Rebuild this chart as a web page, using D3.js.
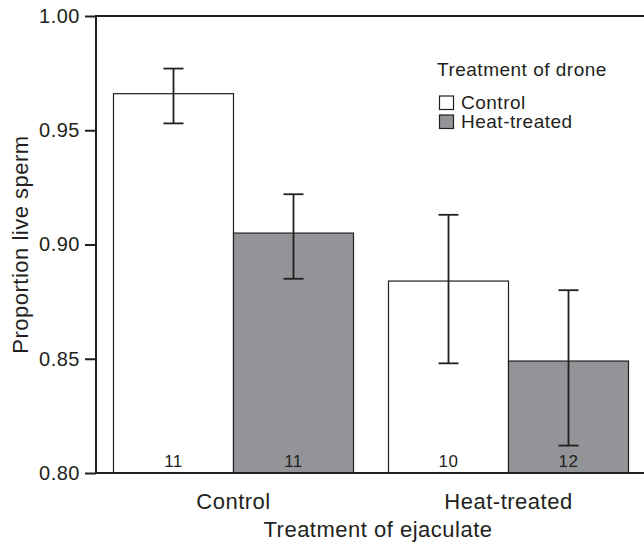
<!DOCTYPE html>
<html>
<head>
<meta charset="utf-8">
<script src="https://cdn.jsdelivr.net/npm/d3@7"></script>
<style>
  body { margin: 0; background: #fff; }
  text { font-family: 'Liberation Sans', Arial, sans-serif; fill: #231f20; letter-spacing: 0.5px; }
</style>
</head>
<body>
<div id="chart"></div>
<script>
// chart data
var ejaculateGroups = ['Control', 'Heat-treated'];
var droneGroups = ['Control', 'Heat-treated'];
// values in order: [ejaculate Control: drone Control, drone Heat], [ejaculate Heat: ...]
var meanValues = [0.966, 0.905, 0.884, 0.849];
var lowerValues = [0.953, 0.885, 0.848, 0.812];
var upperValues = [0.977, 0.922, 0.913, 0.880];
var sampleSizes = [11, 11, 10, 12];
var yTickValues = [0.80, 0.85, 0.90, 0.95, 1.00];
var droneColors = ['#ffffff', '#929497'];

var svgWidth = 644;
var svgHeight = 545;

var margin = {
    top: 16,
    left: 96
};
var plotBottom = 473;
var plotRight = 646;

var svg = d3.select('#chart')
    .append('svg')
    .attr('width', svgWidth)
    .attr('height', svgHeight);

// scales
var yScale = d3.scaleLinear()
    .domain([0.80, 1.00])
    .range([plotBottom, margin.top]);

var x0 = d3.scaleBand()
    .domain(ejaculateGroups)
    .range([margin.left, plotRight])
    .paddingInner(35 / 275)
    .paddingOuter(17.5 / 275);

var x1 = d3.scaleBand()
    .domain(droneGroups)
    .range([0, x0.bandwidth()]);

// build rows for the bars
var rows = [];
ejaculateGroups.forEach(function(eg, i) {
    droneGroups.forEach(function(dg, j) {
        var k = i * droneGroups.length + j;
        rows.push({
            ejaculate: eg,
            drone: dg,
            colorIndex: j,
            mean: meanValues[k],
            lower: lowerValues[k],
            upper: upperValues[k],
            n: sampleSizes[k]
        });
    });
});

var barX = d => x0(d.ejaculate) + x1(d.drone);
var barMid = d => barX(d) + x1.bandwidth() / 2;

// bars
svg.append('g')
    .selectAll('rect')
    .data(rows)
    .enter()
    .append('rect')
    .attr('x', d => barX(d))
    .attr('y', d => yScale(d.mean))
    .attr('width', x1.bandwidth())
    .attr('height', d => plotBottom - yScale(d.mean))
    .attr('fill', d => droneColors[d.colorIndex])
    .attr('stroke', '#231f20')
    .attr('stroke-width', 1.2);

// error bars
var errGroup = svg.append('g')
    .attr('stroke', '#231f20')
    .attr('stroke-width', 1.8);

errGroup.selectAll('.err-line')
    .data(rows)
    .enter()
    .append('line')
    .attr('x1', d => barMid(d))
    .attr('x2', d => barMid(d))
    .attr('y1', d => yScale(d.upper))
    .attr('y2', d => yScale(d.lower));

errGroup.selectAll('.cap-top')
    .data(rows)
    .enter()
    .append('line')
    .attr('x1', d => barMid(d) - 10)
    .attr('x2', d => barMid(d) + 10)
    .attr('y1', d => yScale(d.upper))
    .attr('y2', d => yScale(d.upper));

errGroup.selectAll('.cap-bottom')
    .data(rows)
    .enter()
    .append('line')
    .attr('x1', d => barMid(d) - 10)
    .attr('x2', d => barMid(d) + 10)
    .attr('y1', d => yScale(d.lower))
    .attr('y2', d => yScale(d.lower));

// sample sizes
svg.append('g')
    .selectAll('text')
    .data(rows)
    .enter()
    .append('text')
    .attr('x', d => barMid(d))
    .attr('y', plotBottom - 6)
    .attr('text-anchor', 'middle')
    .style('font-size', '17px')
    .text(d => d.n);

// y axis
var leftAxis = d3.axisLeft(yScale)
    .tickValues(yTickValues)
    .tickFormat(d3.format('.2f'))
    .tickSize(11)
    .tickPadding(5);

var yAxis = svg.append('g')
    .attr('transform', `translate(${margin.left}, 0)`)
    .call(leftAxis);

yAxis.select('.domain').remove();
yAxis.selectAll('line')
    .attr('stroke', '#231f20')
    .attr('stroke-width', 2);
yAxis.selectAll('text')
    .attr('fill', '#231f20')
    .style('font-size', '20px')
    .style('font-family', "'Liberation Sans', Arial, sans-serif");

// frame lines
svg.append('line')
    .attr('x1', margin.left)
    .attr('x2', margin.left)
    .attr('y1', margin.top - 1)
    .attr('y2', plotBottom + 1)
    .attr('stroke', '#231f20')
    .attr('stroke-width', 2);

svg.append('line')
    .attr('x1', margin.left - 1)
    .attr('x2', svgWidth)
    .attr('y1', margin.top)
    .attr('y2', margin.top)
    .attr('stroke', '#231f20')
    .attr('stroke-width', 2);

svg.append('line')
    .attr('x1', margin.left - 1)
    .attr('x2', svgWidth)
    .attr('y1', plotBottom)
    .attr('y2', plotBottom)
    .attr('stroke', '#231f20')
    .attr('stroke-width', 2);

// x category labels
svg.append('g')
    .selectAll('text')
    .data(ejaculateGroups)
    .enter()
    .append('text')
    .attr('x', d => x0(d) + x0.bandwidth() / 2)
    .attr('y', 509)
    .attr('text-anchor', 'middle')
    .style('font-size', '22px')
    .text(d => d);

// axis titles
svg.append('text')
    .attr('x', 378)
    .attr('y', 537)
    .attr('text-anchor', 'middle')
    .style('font-size', '22px')
    .text('Treatment of ejaculate');

svg.append('text')
    .attr('transform', 'rotate(-90)')
    .attr('x', -(margin.top + plotBottom) / 2)
    .attr('y', 28)
    .attr('text-anchor', 'middle')
    .style('font-size', '22px')
    .text('Proportion live sperm');

// legend
var legend = svg.append('g')
    .attr('transform', 'translate(439, 0)');

legend.append('text')
    .attr('x', -2)
    .attr('y', 76)
    .style('font-size', '19px')
    .text('Treatment of drone');

droneGroups.forEach(function(dg, j) {
    legend.append('rect')
        .attr('x', 0.5)
        .attr('y', 96 + j * 19)
        .attr('width', 14)
        .attr('height', 13.5)
        .attr('fill', droneColors[j])
        .attr('stroke', '#231f20')
        .attr('stroke-width', 1.2);
    legend.append('text')
        .attr('x', 22)
        .attr('y', 108.5 + j * 19)
        .style('font-size', '19px')
        .text(dg);
});
</script>
</body>
</html>
